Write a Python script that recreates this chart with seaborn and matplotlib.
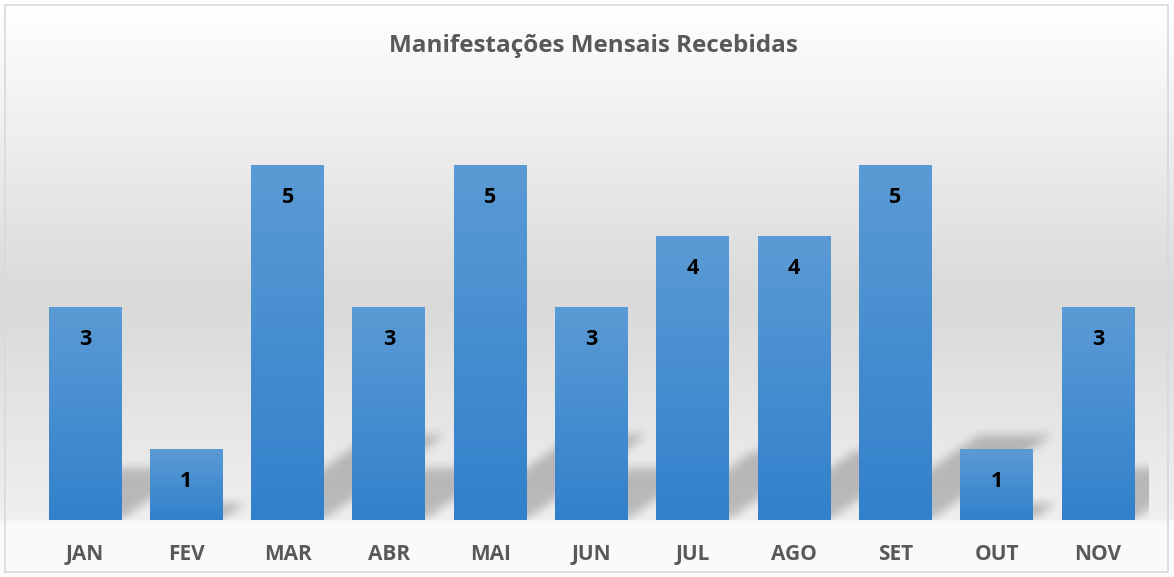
import numpy as np
import pandas as pd
import matplotlib
matplotlib.use("Agg")
import matplotlib.pyplot as plt
import seaborn as sns
from matplotlib.path import Path
from matplotlib.colors import LinearSegmentedColormap
from matplotlib.patches import Rectangle

# ---- data ----
months = ["JAN", "FEV", "MAR", "ABR", "MAI", "JUN", "JUL", "AGO", "SET", "OUT", "NOV"]
values = [3, 1, 5, 3, 5, 3, 4, 4, 5, 1, 3]
title = "Manifestações Mensais Recebidas"

sns.set_theme(style="white")
plt.rcParams['font.family'] = ['Open Sans', 'DejaVu Sans']

W, H = 1174, 577
fig = plt.figure(figsize=(W / 100, H / 100), dpi=100)
fig.patch.set_facecolor("white")

# background gradient (figure level)
bg = fig.add_axes([0, 0, 1, 1], zorder=-10)
bg.set_axis_off()
ys = np.arange(H)
stops_y = [0, 5, 300, 519, 521, H]
stops_v = [1.0, 1.0, 0.851, 0.94, 0.98, 0.985]
col = np.interp(ys, stops_y, stops_v)
img = np.repeat(col[:, None], 4, axis=1)
bg.imshow(np.dstack([img, img, img]), aspect="auto", extent=[0, 1, 1, 0],
          interpolation="bilinear")
bg.set_xlim(0, 1)
bg.set_ylim(1, 0)

# main axes
left, right = 34.4, 1148.7
bottom, top = 520, 94
ax = fig.add_axes([left / W, (H - bottom) / H, (right - left) / W, (bottom - top) / H])
ax.set_facecolor("none")

df = pd.DataFrame({"mes": months, "valor": values})
sns.barplot(data=df, x="mes", y="valor", color="#5b9bd5", width=0.72, ax=ax,
            saturation=1, zorder=3)
ax.set_xlim(-0.5, len(months) - 0.5)
ax.set_ylim(0, 6)

# shadows (perspective, blurred)
px_per_x = (right - left) / len(months)
px_per_y = (bottom - top) / 6
x0, x1 = -0.5, len(months) - 0.5 + 0.4
nx = int((x1 - x0) * px_per_x)
ny = int(6 * px_per_y)
gx = np.linspace(x0, x1, nx)
gy = np.linspace(6, 0, ny)
GX, GY = np.meshgrid(gx, gy)
pts = np.column_stack([GX.ravel(), GY.ravel()])
mask = np.zeros(GX.size)
for p, v in zip(ax.patches, values):
    bx = p.get_x()
    bw = p.get_width()
    dx = 0.34 * v * px_per_y / px_per_x
    dy = 0.24 * v
    poly = Path([(bx, 0), (bx + bw, 0), (bx + bw + dx, dy), (bx + dx, dy), (bx, 0)])
    mask = np.maximum(mask, poly.contains_points(pts).astype(float))
mask = mask.reshape(GX.shape)

def blur(a, r):
    k = np.ones(2 * r + 1) / (2 * r + 1)
    a = np.apply_along_axis(lambda m: np.convolve(m, k, mode="same"), 0, a)
    a = np.apply_along_axis(lambda m: np.convolve(m, k, mode="same"), 1, a)
    return a

mask = blur(blur(mask, 5), 5)
shadow = np.zeros(mask.shape + (4,))
shadow[..., 3] = mask * 0.22
ax.imshow(shadow, extent=[x0, x1, 0, 6], aspect="auto", zorder=1,
          interpolation="bilinear", clip_on=True)
ax.set_xlim(-0.5, len(months) - 0.5)
ax.set_ylim(0, 6)

# gradient bars
cmap = LinearSegmentedColormap.from_list("bar", ["#3280cb", "#5b9bd5"])
grad = np.linspace(0, 1, 256)[:, None]
for p in ax.patches:
    bx, bw, bh = p.get_x(), p.get_width(), p.get_height()
    p.set_facecolor("none")
    p.set_edgecolor("none")
    im = ax.imshow(grad, cmap=cmap, extent=[bx, bx + bw, 0, bh], origin="lower",
                   aspect="auto", zorder=3)
    im.set_clip_path(p)

ax.set_xlim(-0.5, len(months) - 0.5)
ax.set_ylim(0, 6)

# value labels
for i, v in enumerate(values):
    ax.annotate(str(v), (i, v), xytext=(0, -32.5 * 0.72), textcoords="offset points",
                ha="center", va="center", fontsize=15.5, fontweight="bold",
                color="black", zorder=5)

sns.despine(ax=ax, left=True, bottom=True)
ax.set_yticks([])
ax.set_xlabel("")
ax.set_ylabel("")
ax.tick_params(axis="x", length=0, pad=17, labelsize=15, labelcolor="#595959")
for t in ax.get_xticklabels():
    t.set_fontweight("bold")

fig.text(593 / W, 1 - 46 / H, title, ha="center", va="center", fontsize=17.5,
         fontweight="bold", color="#595959")

# chart border
fig.patches.append(Rectangle((5 / W, 5 / H), (1168 - 5) / W, (572 - 5) / H,
                             transform=fig.transFigure, fill=False,
                             edgecolor="#d9d9d9", linewidth=1.2))

fig.savefig("out.png", dpi=100)
